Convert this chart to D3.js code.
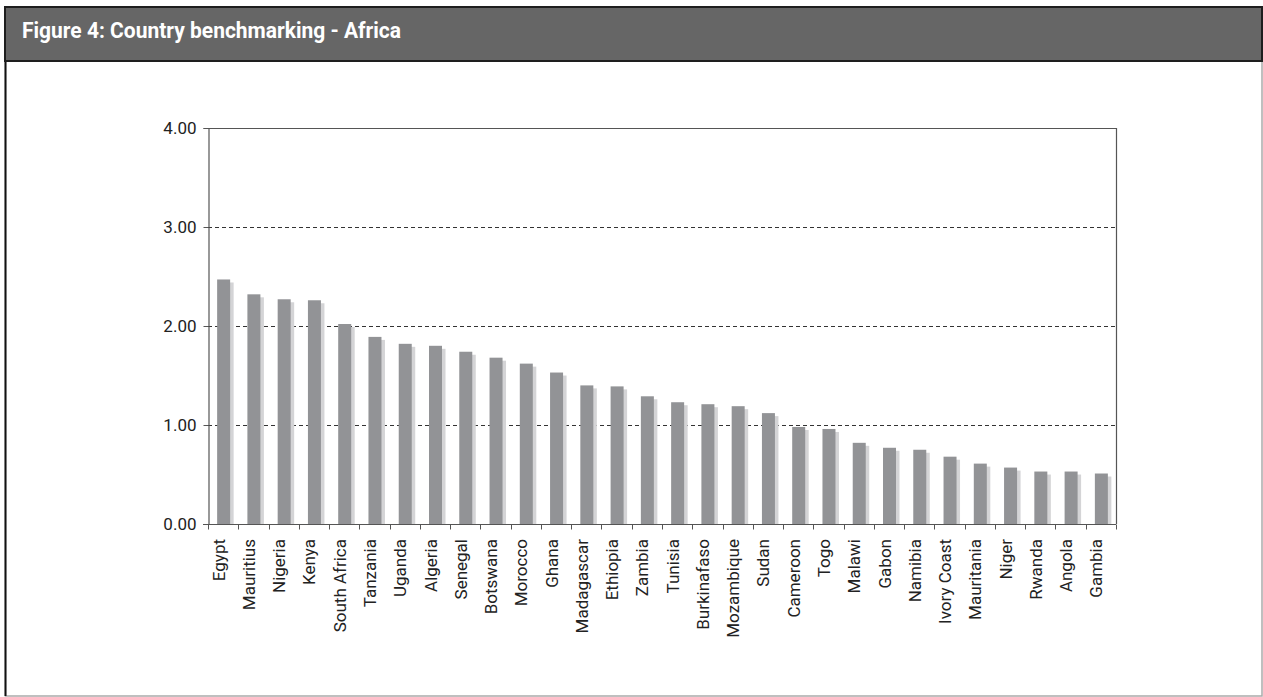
<!DOCTYPE html>
<html>
<head>
<meta charset="utf-8">
<script src="https://cdn.jsdelivr.net/npm/d3@7"></script>
<style>
  html, body { margin: 0; padding: 0; background: #fff; }
  svg { display: block; }
  text { font-family: Roboto, "Liberation Sans", sans-serif; }
</style>
</head>
<body>
<svg id="chart" width="1263" height="697"></svg>
<script>
const titleText = "Figure 4: Country benchmarking - Africa";
const countries = ["Egypt","Mauritius","Nigeria","Kenya","South Africa","Tanzania","Uganda","Algeria","Senegal","Botswana","Morocco","Ghana","Madagascar","Ethiopia","Zambia","Tunisia","Burkinafaso","Mozambique","Sudan","Cameroon","Togo","Malawi","Gabon","Namibia","Ivory Coast","Mauritania","Niger","Rwanda","Angola","Gambia"];
const scores = [2.47,2.32,2.27,2.26,2.02,1.89,1.82,1.80,1.74,1.68,1.62,1.53,1.40,1.39,1.29,1.23,1.21,1.19,1.12,0.98,0.96,0.82,0.77,0.75,0.68,0.61,0.57,0.53,0.53,0.51];
const yTicks = [0, 1, 2, 3, 4];

(function () {
const svg = d3.select("#chart");

// Frame
svg.append("rect").attr("x", 5.5).attr("y", 7).attr("width", 1256.5).attr("height", 689)
  .attr("fill", "#fff").attr("stroke", "#aaa").attr("stroke-width", 1.5);
svg.append("line").attr("x1", 5.5).attr("x2", 5.5).attr("y1", 7).attr("y2", 696)
  .attr("stroke", "#111").attr("stroke-width", 2);
// Header
svg.append("rect").attr("x", 5).attr("y", 7).attr("width", 1257).attr("height", 54)
  .attr("fill", "#666666").attr("stroke", "#1e1e1e").attr("stroke-width", 2);
svg.append("text").attr("transform", "translate(22,38) scale(0.955,1)").attr("fill", "#fff")
  .attr("font-size", 22).attr("font-weight", "bold").text(titleText);

const pL = 208, pR = 1116, pT = 128, pB = 524;
const x = d3.scaleBand().domain(countries).range([pL, pR]).padding(0);
const y = d3.scaleLinear().domain([0, 4]).range([pB, pT]);

// gridlines
svg.append("g").selectAll("line").data(yTicks.filter(t => t > 0 && t < 4)).join("line")
  .attr("x1", pL).attr("x2", pR)
  .attr("y1", d => Math.round(y(d)) + 0.5).attr("y2", d => Math.round(y(d)) + 0.5)
  .attr("stroke", "#333").attr("stroke-dasharray", "4,3").attr("stroke-width", 1);

// bars
const bw = 13;
const bars = svg.append("g");
bars.selectAll("rect.sh").data(scores).join("rect").attr("class", "sh")
  .attr("x", (d, i) => x(countries[i]) + x.bandwidth() / 2 - 6 + 3.5)
  .attr("y", d => y(d) + 3)
  .attr("width", bw).attr("height", d => pB - y(d) - 3)
  .attr("fill", "#d4d4d6");
bars.selectAll("rect.bar").data(scores).join("rect").attr("class", "bar")
  .attr("x", (d, i) => x(countries[i]) + x.bandwidth() / 2 - 6)
  .attr("y", d => y(d))
  .attr("width", bw).attr("height", d => pB - y(d))
  .attr("fill", "#929396");

// plot border (top and right)
svg.append("line").attr("x1", pL).attr("x2", pR).attr("y1", pT + 0.5).attr("y2", pT + 0.5)
  .attr("stroke", "#555").attr("stroke-width", 1.2);
svg.append("line").attr("x1", pR + 0.5).attr("x2", pR + 0.5).attr("y1", pT).attr("y2", pB)
  .attr("stroke", "#555").attr("stroke-width", 1.2);

// y axis
const yAxis = svg.append("g").attr("transform", `translate(${pL + 0.5},0)`)
  .call(d3.axisLeft(y).tickValues(yTicks).tickFormat(d3.format(".2f")).tickSizeOuter(0).tickSize(5).tickPadding(7));
yAxis.select(".domain").attr("stroke", "#555").attr("stroke-width", 1.2);
yAxis.selectAll(".tick line").attr("stroke", "#555");
yAxis.selectAll("text").attr("font-size", 17).attr("fill", "#222")
  .style("font-family", "Roboto, sans-serif");

// x axis
const xg = svg.append("g").attr("transform", `translate(0,${pB + 0.5})`);
xg.append("line").attr("x1", pL - 5).attr("x2", pR).attr("y1", 0).attr("y2", 0)
  .attr("stroke", "#555").attr("stroke-width", 1.2);
const bounds = countries.map(c => x(c)).concat([pR]);
xg.selectAll("line.tk").data(bounds).join("line").attr("class", "tk")
  .attr("x1", d => Math.round(d) + 0.5).attr("x2", d => Math.round(d) + 0.5)
  .attr("y1", 0).attr("y2", 5).attr("stroke", "#555");
xg.selectAll("text").data(countries).join("text")
  .attr("transform", d => `translate(${x(d) + x.bandwidth() / 2 + 1.5},${14.5}) rotate(-90)`)
  .attr("text-anchor", "end").attr("font-size", 17).attr("fill", "#222")
  .text(d => d);
})();
</script>
</body>
</html>
